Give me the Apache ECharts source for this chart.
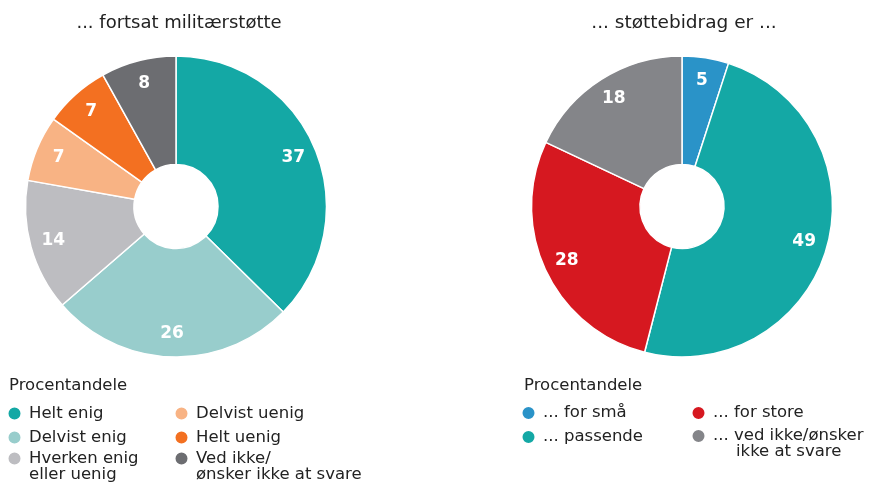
<!DOCTYPE html>
<html>
<head>
<meta charset="utf-8">
<script src="https://cdn.jsdelivr.net/npm/echarts@6/dist/echarts.min.js"></script>
<style>html,body{margin:0;padding:0;background:#fff}#c{width:882px;height:485px}</style>
</head>
<body>
<div id="c"></div>
<script>
const leftTitle = '... fortsat militærstøtte';
const rightTitle = '... støttebidrag er ...';
const legendTitle = 'Procentandele';
const leftCategories = ['Helt enig', 'Delvist enig', 'Hverken enig\neller uenig', 'Delvist uenig', 'Helt uenig', 'Ved ikke/\nønsker ikke at svare'];
const leftValues = [37, 26, 14, 7, 7, 8];
const rightCategories = ['... for små', '... passende', '... for store', '... ved ikke/ønsker\nikke at svare'];
const rightValues = [5, 49, 28, 18];

const leftColors = ['#14A8A5', '#98CDCC', '#BDBDC1', '#F8B384', '#F37021', '#6C6D71'];
const rightColors = ['#2A93C8', '#14A8A5', '#D61820', '#848589'];

const FONT = 'DejaVu Sans';
const chart = echarts.init(document.getElementById('c'), null, {renderer: 'canvas'});

function pieData(cats, vals, colors) {
  return cats.map((n, i) => ({name: n, value: vals[i], itemStyle: {color: colors[i]}}));
}
function mainPie(cats, vals, colors, cx) {
  return {
    type: 'pie', center: [cx, 206.5], radius: [42, 150.5], startAngle: 90, clockwise: true,
    silent: true, animation: false,
    itemStyle: {borderColor: '#fff', borderWidth: 1.5},
    label: {show: false}, labelLine: {show: false},
    data: pieData(cats, vals, colors)
  };
}
function labelPie(cats, vals, cx) {
  return {
    type: 'pie', center: [cx, 206.5], radius: [98, 150.5], startAngle: 90, clockwise: true,
    silent: true, animation: false,
    itemStyle: {color: 'rgba(0,0,0,0)', borderWidth: 0},
    label: {show: true, position: 'inside', color: '#fff', fontFamily: FONT, fontWeight: 'bold', fontSize: 17, formatter: '{c}'},
    labelLine: {show: false},
    data: cats.map((n, i) => ({name: n + ' ', value: vals[i]}))
  };
}
const legTextBase = {fontFamily: FONT, fontSize: 16.5, color: '#222', lineHeight: 16};
function legendCol(names, left, top, opts) {
  return Object.assign({
    orient: 'vertical', left: left, top: top, height: 200, padding: 0, itemGap: 7,
    itemWidth: 19, itemHeight: 14, icon: 'circle', selectedMode: false,
    textStyle: Object.assign({}, legTextBase),
    data: names.slice()
  }, opts || {});
}
// multi-line item: a leading empty line keeps the icon level with the first text line
function legendMulti(name, left, top, indent) {
  return legendCol([name], left, top, {
    formatter: function (n) {
      const p = n.split('\n');
      return '\n' + p[0] + '\n' + (indent ? '{ind|' + p[1] + '}' : p[1]);
    },
    textStyle: Object.assign({}, legTextBase, {
      rich: {ind: {fontFamily: FONT, fontSize: 16.5, color: '#222', lineHeight: 16, padding: [0, 0, 0, indent || 0]}}
    })
  });
}

const option = {
  animation: false,
  title: [
    {text: leftTitle, left: 179, top: 14, textAlign: 'center', padding: 0,
     textStyle: {fontFamily: FONT, fontSize: 18, fontWeight: 'normal', color: '#222'}},
    {text: rightTitle, left: 684, top: 14, textAlign: 'center', padding: 0,
     textStyle: {fontFamily: FONT, fontSize: 18.5, fontWeight: 'normal', color: '#222'}},
    {text: legendTitle, left: 9, top: 377, padding: 0,
     textStyle: {fontFamily: FONT, fontSize: 16.5, fontWeight: 'normal', color: '#222'}},
    {text: legendTitle, left: 524, top: 377, padding: 0,
     textStyle: {fontFamily: FONT, fontSize: 16.5, fontWeight: 'normal', color: '#222'}}
  ],
  legend: [
    legendCol(leftCategories.slice(0, 2), 6.5, 405),
    legendMulti(leftCategories[2], 6.5, 434),
    legendCol(leftCategories.slice(3, 5), 173.5, 405),
    legendMulti(leftCategories[5], 173.5, 434),
    legendCol(rightCategories.slice(0, 2), 520.5, 404.5),
    legendCol(rightCategories.slice(2, 3), 690.5, 404.5),
    legendMulti(rightCategories[3], 690.5, 411.5, 23)
  ],
  series: [
    mainPie(leftCategories, leftValues, leftColors, 176),
    mainPie(rightCategories, rightValues, rightColors, 682),
    labelPie(leftCategories, leftValues, 176),
    labelPie(rightCategories, rightValues, 682)
  ]
};
chart.setOption(option);
</script>
</body>
</html>
